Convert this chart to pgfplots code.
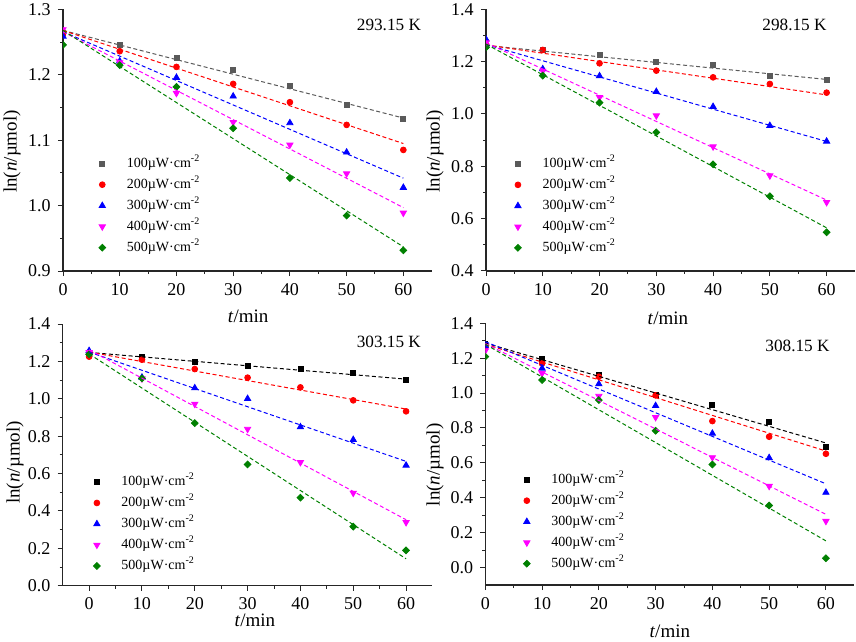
\documentclass[border=0pt]{standalone}
\usepackage{fontspec}
\setmainfont{Liberation Serif}
\usepackage{pgfplots}
\usepackage{pgfplotstable}
\pgfplotsset{compat=1.18}

\definecolor{cgray}{RGB}{90,90,90}
\definecolor{cblack}{RGB}{0,0,0}
\definecolor{cred}{RGB}{255,0,0}
\definecolor{cblue}{RGB}{0,0,255}
\definecolor{cmag}{RGB}{255,0,255}
\definecolor{cgreen}{RGB}{0,128,0}

% panel 1: 293.15 K
\pgfplotstableread{
t a b c d e
0 1.264 1.263 1.259 1.2694 1.2459
10 1.2464 1.2362 1.2209 1.219 1.2148
20 1.2265 1.2122 1.1959 1.172 1.1816
30 1.2077 1.1862 1.1673 1.1276 1.1184
40 1.1832 1.1582 1.1265 1.093 1.0423
50 1.1536 1.1235 1.0816 1.049 0.9847
60 1.1321 1.0852 1.0276 0.9888 0.9316
}\dA
\pgfplotstableread{
t a b c d e
0 1.268 1.268 1.266 1.266 1.268
60 1.134 1.095 1.042 0.997 0.937
}\fA
% panel 2: 298.15 K
\pgfplotstableread{
t a b c d e
0 1.262 1.264 1.2854 1.2726 1.2548
10 1.245 1.2446 1.172 1.1643 1.1465
20 1.2242 1.1936 1.1452 1.0637 1.0433
30 1.200 1.1656 1.0854 0.9936 0.930
40 1.186 1.140 1.028 0.8752 0.8076
50 1.1465 1.1146 0.9554 0.7643 0.6854
60 1.130 1.0815 0.8955 0.6624 0.5478
}\dB
\pgfplotstableread{
t a b c d e
0 1.262 1.264 1.265 1.272 1.267
60 1.132 1.073 0.895 0.671 0.565
}\fB
% panel 3: 303.15 K
\pgfplotstableread{
t a b c d e
0 1.243 1.2253 1.257 1.248 1.2377
10 1.2217 1.209 1.1146 1.1075 1.109
20 1.195 1.159 1.0576 0.972 0.870
30 1.175 1.113 1.0005 0.838 0.649
40 1.161 1.061 0.849 0.660 0.471
50 1.138 0.9916 0.781 0.4958 0.316
60 1.0984 0.9328 0.6438 0.3389 0.189
}\dC
\pgfplotstableread{
t a b c d e
0 1.248 1.250 1.250 1.262 1.240
60 1.105 0.945 0.665 0.353 0.144
}\fC
% panel 4: 308.15 K
\pgfplotstableread{
t a b c d e
0 1.281 1.266 1.270 1.243 1.2086
10 1.195 1.170 1.1417 1.113 1.075
20 1.107 1.094 1.052 0.983 0.960
30 0.989 0.987 0.9275 0.861 0.784
40 0.931 0.8396 0.7688 0.631 0.591
50 0.834 0.750 0.629 0.4666 0.3557
60 0.692 0.6521 0.430 0.266 0.0535
}\dD
\pgfplotstableread{
t a b c d e
0 1.287 1.280 1.295 1.284 1.280
60 0.714 0.668 0.480 0.305 0.153
}\fD

\pgfplotsset{
  panel/.style={
    scale only axis,
    axis lines=left,
    axis line style={-, line width=0.6pt, black!85},
    tick align=outside,
    major tick length=2.6pt,
    minor tick length=1.5pt,
    tick style={black!85, line width=0.5pt},
    xtick={0,10,20,30,40,50,60},
    minor x tick num=1,
    minor y tick num=1,
    xmax=65,
    ticklabel style={font=\fontsize{9}{10}\selectfont},
    /pgf/number format/assume math mode=true,
    yticklabel style={/pgf/number format/.cd, fixed, fixed zerofill, precision=1},
    label style={font=\fontsize{9.5}{11}\selectfont},
    xlabel={\textit{t}/min},
    ylabel={ln(\textit{n}/µmol)},
    clip marker paths=true,
    legend cell align=left,
    legend style={draw=none, fill=none, font=\fontsize{7}{8}\selectfont,
      nodes={inner sep=0pt, text height=5.5pt, text depth=1.5pt},
      row sep=3.5pt, column sep=10.6pt},
    legend image code/.code={\draw[##1] plot coordinates {(0pt,0pt)};},
  },
  mkA/.style={only marks, mark=square*, mark size=1.25pt},
  mkB/.style={only marks, mark=*, mark size=1.45pt, color=cred, mark options={fill=cred, draw=cred}},
  mkC/.style={only marks, mark=triangle*, mark size=1.8pt, color=cblue},
  mkD/.style={only marks, mark=triangle*, mark size=1.8pt, mark options={rotate=180}, color=cmag},
  mkE/.style={only marks, mark=square*, mark size=1.2pt, mark options={rotate=45}, color=cgreen},
  fitline/.style={forget plot, no marks, line width=0.5pt, dash pattern=on 2pt off 1.3pt},
}

\newcommand{\series}[3]{% data table, fit table, first colour
  \addplot[mkA, color=#3] table[x=t, y=a] {#1};
  \addplot[mkB] table[x=t, y=b] {#1};
  \addplot[mkC] table[x=t, y=c] {#1};
  \addplot[mkD] table[x=t, y=d] {#1};
  \addplot[mkE] table[x=t, y=e] {#1};
  \addplot[fitline, color=#3] table[x=t, y=a] {#2};
  \addplot[fitline, color=cred] table[x=t, y=b] {#2};
  \addplot[fitline, color=cblue] table[x=t, y=c] {#2};
  \addplot[fitline, color=cmag] table[x=t, y=d] {#2};
  \addplot[fitline, color=cgreen] table[x=t, y=e] {#2};
  \legend{100µW·cm\textsuperscript{-2}, 200µW·cm\textsuperscript{-2}, 300µW·cm\textsuperscript{-2}, 400µW·cm\textsuperscript{-2}, 500µW·cm\textsuperscript{-2}}
}

\begin{document}
\begin{tikzpicture}
\useasboundingbox (0,0) rectangle (428pt,-321pt);

% panel 1
\begin{axis}[panel, at={(31.5pt,-4.75pt)}, anchor=north west,
  width=184.35pt, height=130.75pt,
  xmin=0, ymin=0.9, ymax=1.3, ytick={0.9,1.0,1.1,1.2,1.3},
  xlabel style={at={(rel axis cs:0.502,-0.172)}, anchor=center},
  ylabel style={at={(rel axis cs:-0.138,0.457)}, anchor=center},
  legend style={at={(rel axis cs:0.080,0.454)}, anchor=north west}]
\series{\dA}{\fA}{cgray}
\node[font=\fontsize{8.6}{10}\selectfont] at (rel axis cs:0.884,0.941) {293.15 K};
\end{axis}

% panel 2
\begin{axis}[panel, at={(243pt,-4.65pt)}, anchor=north west,
  width=184.5pt, height=130.85pt,
  xmin=0, ymin=0.4, ymax=1.4, ytick={0.4,0.6,0.8,1.0,1.2,1.4},
  xlabel style={at={(rel axis cs:0.493,-0.18)}, anchor=center},
  ylabel style={at={(rel axis cs:-0.138,0.457)}, anchor=center},
  legend style={at={(rel axis cs:0.060,0.453)}, anchor=north west}]
\series{\dB}{\fB}{cgray}
\node[font=\fontsize{8.6}{10}\selectfont] at (rel axis cs:0.836,0.940) {298.15 K};
\end{axis}

% panel 3
\begin{axis}[panel, at={(31.35pt,-162pt)}, anchor=north west,
  width=184.9pt, height=130.85pt,
  xmin=-5, ymin=0, ymax=1.4, ytick={0,0.2,0.4,0.6,0.8,1.0,1.2,1.4},
  xlabel style={at={(rel axis cs:0.52,-0.131)}, anchor=center},
  ylabel style={at={(rel axis cs:-0.129,0.471)}, anchor=center},
  legend style={at={(rel axis cs:0.066,0.440)}, anchor=north west}]
\series{\dC}{\fC}{cblack}
\node[font=\fontsize{8.6}{10}\selectfont] at (rel axis cs:0.882,0.933) {303.15 K};
\end{axis}

% panel 4
\begin{axis}[panel, at={(242.65pt,-161.65pt)}, anchor=north west,
  width=184.5pt, height=130.85pt,
  xmin=0, ymin=-0.1, ymax=1.4, ytick={0,0.2,0.4,0.6,0.8,1.0,1.2,1.4},
  xlabel style={at={(rel axis cs:0.5,-0.176)}, anchor=center},
  ylabel style={at={(rel axis cs:-0.136,0.459)}, anchor=center},
  legend style={at={(rel axis cs:0.086,0.446)}, anchor=north west}]
\series{\dD}{\fD}{cblack}
\node[font=\fontsize{8.6}{10}\selectfont] at (rel axis cs:0.846,0.913) {308.15 K};
\end{axis}
\end{tikzpicture}
\end{document}
